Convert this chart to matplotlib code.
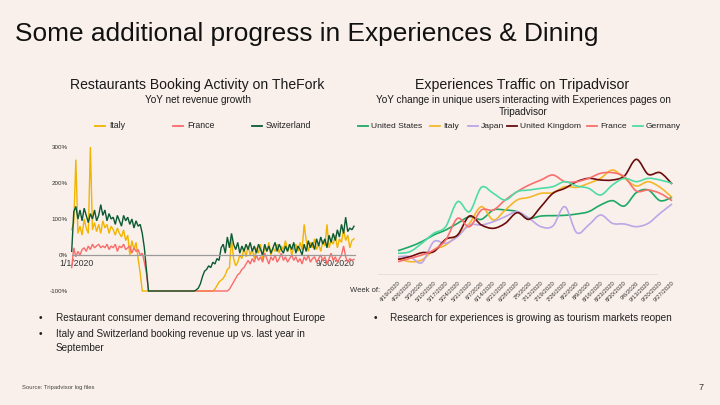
import matplotlib
matplotlib.use("Agg")
import matplotlib.pyplot as plt
from matplotlib.lines import Line2D
from matplotlib.path import Path
from matplotlib.patches import PathPatch
import matplotlib.transforms as mtransforms
import numpy as np

plt.rcParams['font.family'] = ['Liberation Sans', 'DejaVu Sans']

W, H = 720, 405
BG = '#F9F0EB'

# ---------------- Left chart data (YoY %, every 2 days from 1/1/2020) ----------------
left_days = list(range(0, 273, 2))
switzerland = [10, 120, 135, 100, 125, 95, 130, 110, 90, 115, 100, 125, 95, 110, 140, 110,
               125, 95, 115, 100, 105, 85, 110, 95, 80, 110, 95, 105, 85, 100, 75, 95, 80, 85,
               60, 20, -40, -100, -100, -100, -100, -100, -100, -100, -100, -100, -100, -100,
               -100, -100, -100, -100, -100, -100, -100, -100, -100, -100, -100, -100, -97, -92,
               -80, -60, -45, -40, -30, -35, -20, -25, -10, -15, 20, 30, 5, 50, 20, 60, 30, 15,
               35, 5, 25, 10, 30, 15, 35, 10, 25, 5, 30, 15, 0, 30, 10, 25, 5, 20, 35, 10, 30,
               15, 5, 25, 10, 30, 15, 35, 5, 25, 15, 0, 30, 10, 40, 20, 35, 15, 45, 25, 50, 30,
               45, 20, 55, 35, 60, 40, 70, 50, 85, 60, 105, 65, 75, 70, 80]
italy_left = [70, 90, 265, 60, 80, 55, 100, 75, 60, 300, 70, 90, 65, 85, 60, 95, 75, 85, 60,
              80, 70, 55, 75, 60, 50, 70, 40, 55, 0, 40, 15, 35, -10, -50, -100, -100, -100,
              -100, -100, -100, -100, -100, -100, -100, -100, -100, -100, -100, -100, -100, -100,
              -100, -100, -100, -100, -100, -100, -100, -100, -100, -100, -100, -100, -100, -100,
              -100, -100, -100, -100, -95, -85, -75, -70, -65, -55, -40, -35, 45, -10, -30, -20,
              0, -10, 20, -5, 25, 0, 15, -10, 20, 5, 30, -15, 25, 10, 35, 0, 20, 10, 30, 5, 25,
              15, 40, 10, 30, 0, 20, 30, 10, 35, 15, 85, 40, 10, 35, 20, 45, 15, 30, 10, 40, 25,
              85, 20, 40, 30, 55, 20, 45, 35, 70, 40, 55, 20, 40, 45]
france_left = [-35, 20, -5, 10, 0, 15, 20, 10, 25, 15, 30, 20, 25, 30, 20, 25, 20, 30, 15, 25,
               20, 30, 10, 25, 20, 30, 15, 20, 25, 5, 20, 10, 15, 0, 5, -20, -50, -100, -100,
               -100, -100, -100, -100, -100, -100, -100, -100, -100, -100, -100, -100, -100, -100,
               -100, -100, -100, -100, -100, -100, -100, -100, -100, -100, -100, -100, -100, -100,
               -100, -100, -100, -100, -100, -100, -100, -100, -100, -95, -85, -75, -65, -55, -50,
               -40, -35, -25, -15, -25, -10, -20, 0, -15, -5, -20, 5, -10, -25, -5, -15, 0, -20,
               -10, 5, -15, -5, -20, -10, 0, -15, -5, -20, -10, -25, -5, -15, 0, -20, -10, -5,
               -20, -10, 0, -15, -5, -25, -10, 5, -15, -5, -20, -10, 0, 25, -5, -20, -10, -15, -12]
left_series = [('Italy', italy_left, '#F2B400'),
               ('France', france_left, '#F96B6B'),
               ('Switzerland', switzerland, '#0B5A32')]
left_yticks = [-100, 0, 100, 200, 300]
left_yticklabels = ['-100%', '0%', '100%', '200%', '300%']
left_xlabels = ['1/1/2020', '9/30/2020']

# ---------------- Right chart data (relative level, weekly) ----------------
weeks = ['4/19/2020', '4/26/2020', '5/3/2020', '5/10/2020', '5/17/2020', '5/24/2020',
         '5/31/2020', '6/7/2020', '6/14/2020', '6/21/2020', '6/28/2020', '7/5/2020',
         '7/12/2020', '7/19/2020', '7/26/2020', '8/2/2020', '8/9/2020', '8/16/2020',
         '8/23/2020', '8/30/2020', '9/6/2020', '9/13/2020', '9/20/2020', '9/27/2020']
us = [73, 85, 100, 120, 135, 155, 175, 167, 195, 195, 190, 170, 177, 178, 179, 183, 190, 210,
      223, 207, 247, 255, 223, 233]
italy_r = [50, 40, 45, 75, 90, 120, 155, 205, 165, 195, 225, 233, 245, 247, 265, 263, 275, 290,
           315, 290, 267, 280, 263, 233]
japan = [55, 55, 37, 100, 95, 115, 150, 150, 160, 175, 190, 170, 145, 147, 205, 127, 150, 180,
         155, 153, 145, 155, 185, 213]
uk = [47, 55, 67, 70, 107, 120, 177, 150, 140, 155, 187, 167, 205, 245, 260, 280, 290, 285,
      285, 297, 347, 302, 307, 273]
france_r = [40, 50, 60, 75, 105, 170, 145, 195, 195, 225, 250, 270, 285, 300, 280, 280, 290,
            305, 307, 295, 252, 255, 245, 223]
germany = [65, 70, 95, 125, 145, 220, 190, 263, 245, 225, 250, 255, 260, 265, 280, 267, 260,
           240, 270, 290, 280, 290, 285, 275]
right_series = [('United States', us, '#1DA865'),
                ('Italy', italy_r, '#F5B72A'),
                ('Japan', japan, '#BBA6E6'),
                ('United Kingdom', uk, '#6B0B0B'),
                ('France', france_r, '#FA6E6E'),
                ('Germany', germany, '#4EDCA4')]


def fx(px):
    return px / W


def fy(py):
    return 1 - py / H


fig = plt.figure(figsize=(7.2, 4.05), dpi=100)
fig.patch.set_facecolor(BG)

# Title and texts
fig.text(fx(15), fy(40.7), 'Some additional progress in Experiences & Dining',
         fontsize=18.9, color='#111111', va='baseline', ha='left')
fig.text(fx(197), fy(85), 'Restaurants Booking Activity on TheFork', fontsize=10.1,
         color='#1a1a1a', ha='center', va='center')
fig.text(fx(198), fy(100), 'YoY net revenue growth', fontsize=7.2, color='#1a1a1a',
         ha='center', va='center')
fig.text(fx(522), fy(85), 'Experiences Traffic on Tripadvisor', fontsize=10.2,
         color='#1a1a1a', ha='center', va='center')
fig.text(fx(523), fy(100), 'YoY change in unique users interacting with Experiences pages on',
         fontsize=7.2, color='#1a1a1a', ha='center', va='center')
fig.text(fx(523), fy(112), 'Tripadvisor', fontsize=7.2, color='#1a1a1a',
         ha='center', va='center')

# bullets
bullet_fs = 7.2
fig.text(fx(40), fy(318), '\u2022', fontsize=bullet_fs, color='#222222', ha='center', va='center')
fig.text(fx(56), fy(318), 'Restaurant consumer demand recovering throughout Europe',
         fontsize=bullet_fs, color='#222222', va='center')
fig.text(fx(40), fy(334), '\u2022', fontsize=bullet_fs, color='#222222', ha='center', va='center')
fig.text(fx(56), fy(334), 'Italy and Switzerland booking revenue up vs. last year in',
         fontsize=bullet_fs, color='#222222', va='center')
fig.text(fx(56), fy(348), 'September', fontsize=bullet_fs, color='#222222', va='center')
fig.text(fx(375), fy(318), '\u2022', fontsize=bullet_fs, color='#222222', ha='center', va='center')
fig.text(fx(390), fy(318), 'Research for experiences is growing as tourism markets reopen',
         fontsize=bullet_fs, color='#222222', va='center')

fig.text(fx(22), fy(388), 'Source: Tripadvisor log files', fontsize=4.2, color='#444444',
         va='center')
fig.text(fx(701), fy(387), '7', fontsize=6.5, color='#333333', va='center', ha='center')

# ---------------- Left chart ----------------
ax1 = fig.add_axes([fx(71.7), fy(294.6), fx(355 - 71.7), (294.6 - 143.4) / H])
ax1.set_facecolor('none')
for name, vals, col in left_series:
    ax1.plot(left_days, vals, color=col, lw=1.0, solid_joinstyle='miter', clip_on=False)
ax1.set_xlim(0, 273)
ax1.set_ylim(-110, 310)
for s in ['top', 'right', 'left']:
    ax1.spines[s].set_visible(False)
ax1.spines['bottom'].set_position(('data', 0))
ax1.spines['bottom'].set_color('#9a9a9a')
ax1.spines['bottom'].set_linewidth(0.9)
ax1.set_yticks(left_yticks)
ax1.set_yticklabels(left_yticklabels)
ax1.tick_params(axis='y', length=0, labelsize=4.5, labelcolor='#333333', pad=3)
ax1.set_xticks([0, 273])
ax1.set_xticklabels(left_xlabels)
ax1.tick_params(axis='x', length=0, labelsize=6.3, labelcolor='#333333', pad=3)
xl = ax1.get_xticklabels()
xl[0].set_ha('center')
xl[0].set_transform(xl[0].get_transform() + mtransforms.ScaledTranslation(5 / 100, 0, fig.dpi_scale_trans))
xl[1].set_ha('right')

# left legend (manual placement)
left_leg_x = [95, 173, 252]
for (name, vals, col), x0 in zip(left_series, left_leg_x):
    fig.add_artist(Line2D([fx(x0), fx(x0 + 10)], [fy(126), fy(126)], color=col, lw=1.3))
    fig.text(fx(x0 + 14), fy(126), name, fontsize=6.3, color='#222222', va='center')

# ---------------- Right chart ----------------
ax2 = fig.add_axes([fx(378), fy(275), fx(675.6 - 378), 125 / H])
ax2.set_facecolor('none')
ax2.set_xlim(-1.68, 23.3)
ax2.set_ylim(0, 375)
xs = np.arange(len(weeks), dtype=float)


def smooth_path(x, y):
    pts = np.column_stack([x, y]).astype(float)
    n = len(pts)
    verts = [pts[0]]
    codes = [Path.MOVETO]
    for i in range(n - 1):
        p0 = pts[i - 1] if i > 0 else pts[i]
        p1 = pts[i]
        p2 = pts[i + 1]
        p3 = pts[i + 2] if i + 2 < n else pts[i + 1]
        c1 = p1 + (p2 - p0) / 6.0
        c2 = p2 - (p3 - p1) / 6.0
        verts += [c1, c2, p2]
        codes += [Path.CURVE4] * 3
    return Path(verts, codes)


for name, vals, col in right_series:
    patch = PathPatch(smooth_path(xs, vals), facecolor='none', edgecolor=col, lw=1.2,
                      clip_on=False)
    ax2.add_patch(patch)

for s in ['top', 'right', 'left', 'bottom']:
    ax2.spines[s].set_visible(False)
ax2.axhline(0, xmin=0, xmax=(21.75 + 1.68) / (23.3 + 1.68), color='#9AA0A6', lw=1.0)
ax2.set_yticks([])
ax2.set_xticks(xs)
ax2.set_xticklabels(weeks, rotation=45, ha='right', va='top', rotation_mode='anchor')
ax2.tick_params(axis='x', length=0, labelsize=4.3, labelcolor='#333333', pad=4)
fig.text(fx(350), fy(290), 'Week of:', fontsize=5.5, color='#333333', va='center')

# right legend (manual placement)
right_leg_x = [358, 430, 468, 507, 587, 633]
for (name, vals, col), x0 in zip(right_series, right_leg_x):
    fig.add_artist(Line2D([fx(x0), fx(x0 + 10)], [fy(126), fy(126)], color=col, lw=1.3))
    fig.text(fx(x0 + 13), fy(126), name, fontsize=6.1, color='#222222', va='center')

fig.savefig('out.png', dpi=100, facecolor=BG)
